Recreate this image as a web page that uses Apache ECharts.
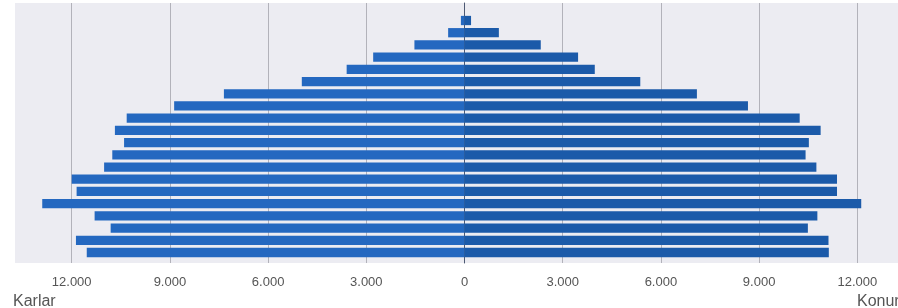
<!DOCTYPE html>
<html>
<head>
<meta charset="utf-8">
<script src="https://cdn.jsdelivr.net/npm/echarts@6/dist/echarts.min.js"></script>
<style>
  html, body { margin: 0; padding: 0; background: #fff; }
  #chart { width: 898px; height: 308px; }
</style>
</head>
<body>
<div id="chart"></div>
<script>
// age groups, bottom (youngest) to top (oldest)
const ageGroups = ['0-4', '5-9', '10-14', '15-19', '20-24', '25-29', '30-34', '35-39',
  '40-44', '45-49', '50-54', '55-59', '60-64', '65-69', '70-74', '75-79',
  '80-84', '85-89', '90-94', '95+'];
const karlar = [11540, 11870, 10810, 11300, 12900, 11850, 12000, 11010, 10760, 10400,
  10680, 10320, 8870, 7350, 4970, 3600, 2790, 1530, 500, 110];
const konur = [11130, 11120, 10490, 10780, 12120, 11380, 11380, 10750, 10420, 10520,
  10880, 10240, 8660, 7100, 5370, 3980, 3470, 2330, 1050, 200];
const axisMin = -15000;
const axisMax = 15000;
const axisStep = 3000;

// 12000 -> "12.000"
function fmt(v) {
  return String(Math.abs(v)).replace(/\B(?=(\d{3})+(?!\d))/g, '.');
}

const chart = echarts.init(document.getElementById('chart'), null, { renderer: 'canvas' });

// grid 0 carries the background lines and tick labels, grid 1 the bars.
// both are wider than the canvas so that +-15000 falls just outside it.
const GRID_X = { left: -26.5, width: 982, outerBoundsMode: 'none', containLabel: false };

chart.setOption({
  animation: false,
  textStyle: { fontFamily: 'Liberation Sans, Arial, sans-serif' },
  graphic: [
    {
      type: 'rect', z: -10, silent: true,
      shape: { x: 15, y: 3, width: 883, height: 260 },
      style: { fill: '#ececf2' }
    },
    {
      type: 'text', left: 13, top: 294,
      style: { text: 'Karlar', fontSize: 16, fill: '#555', fontFamily: 'Liberation Sans, Arial, sans-serif' }
    },
    {
      type: 'text', left: 857, top: 294,
      style: { text: 'Konur', fontSize: 16, fill: '#555', fontFamily: 'Liberation Sans, Arial, sans-serif' }
    }
  ],
  grid: [
    Object.assign({ top: 3, height: 260 }, GRID_X),
    Object.assign({ top: 14.4, height: 244.2 }, GRID_X)
  ],
  xAxis: [
    {
      gridIndex: 0,
      type: 'value',
      min: axisMin, max: axisMax, interval: axisStep,
      axisLine: { show: false },
      axisTick: { show: false },
      splitLine: { show: true, lineStyle: { color: '#b2b2ba', width: 1 } },
      axisLabel: {
        margin: 13,
        fontSize: 13,
        color: '#555',
        formatter: v => (Math.abs(v) > 12000 ? '' : fmt(v))
      }
    },
    {
      gridIndex: 1,
      type: 'value',
      min: axisMin, max: axisMax, interval: axisStep,
      show: false
    }
  ],
  yAxis: [
    {
      gridIndex: 0,
      type: 'category',
      data: ageGroups,
      axisLine: { show: true, onZero: true, lineStyle: { color: '#4c5872', width: 1 } },
      axisTick: { show: false },
      axisLabel: { show: false },
      splitLine: { show: false }
    },
    {
      gridIndex: 1,
      type: 'category',
      data: ageGroups,
      show: false
    }
  ],
  series: [
    {
      name: 'Karlar',
      type: 'bar',
      xAxisIndex: 1,
      yAxisIndex: 1,
      stack: 'pyramid',
      barCategoryGap: '24%',
      itemStyle: { color: '#2468c0' },
      data: karlar.map(v => -v)
    },
    {
      name: 'Konur',
      type: 'bar',
      xAxisIndex: 1,
      yAxisIndex: 1,
      stack: 'pyramid',
      barCategoryGap: '24%',
      itemStyle: { color: '#1b5aa9' },
      data: konur
    }
  ]
});
</script>
</body>
</html>
